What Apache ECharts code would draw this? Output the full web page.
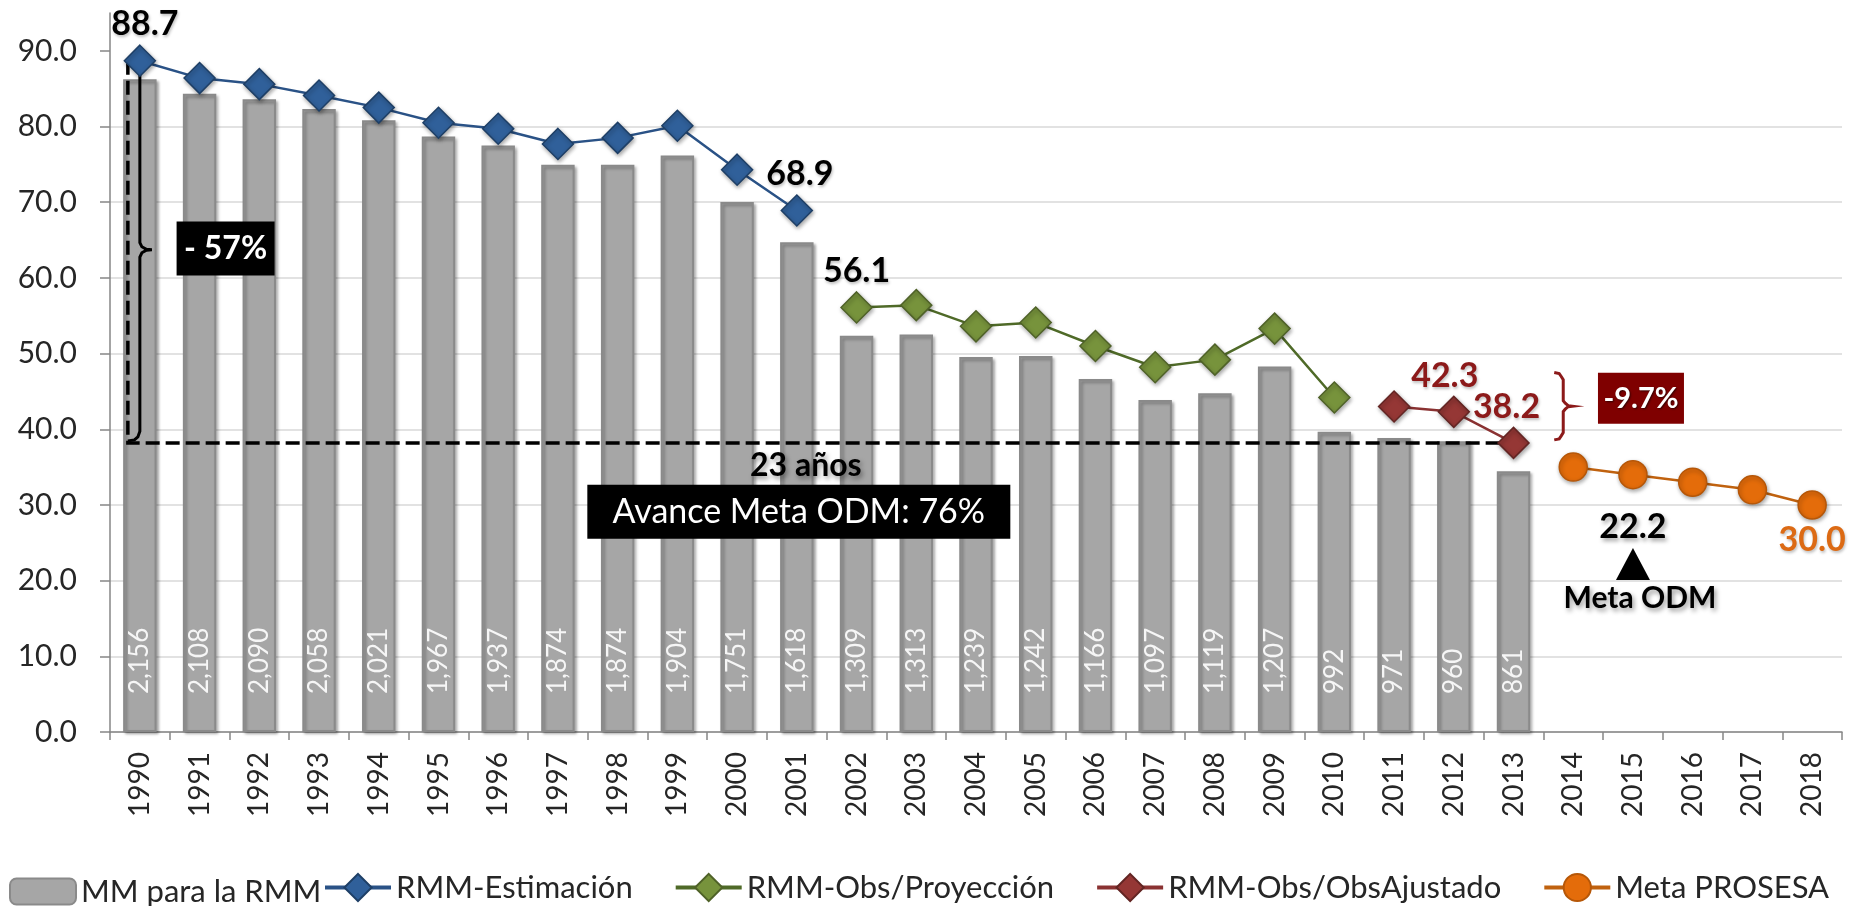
<!DOCTYPE html>
<html>
<head>
<meta charset="utf-8">
<script src="https://cdn.jsdelivr.net/npm/echarts@6/dist/echarts.min.js"></script>
<style>
  html, body { margin: 0; padding: 0; background: #fff; }
  #chart { width: 1853px; height: 906px; }
</style>
</head>
<body>
<div id="chart"></div>
<script>
const FONT = 'Lato';

const years = ['1990', '1991', '1992', '1993', '1994', '1995', '1996', '1997', '1998', '1999',
  '2000', '2001', '2002', '2003', '2004', '2005', '2006', '2007', '2008', '2009',
  '2010', '2011', '2012', '2013', '2014', '2015', '2016', '2017', '2018'];
const yTicks = [0, 10, 20, 30, 40, 50, 60, 70, 80, 90];

// MM para la RMM (1990-2013)
const mmCounts = [2156, 2108, 2090, 2058, 2021, 1967, 1937, 1874, 1874, 1904, 1751, 1618,
  1309, 1313, 1239, 1242, 1166, 1097, 1119, 1207, 992, 971, 960, 861];
// RMM-Estimación (1990-2001)
const rmmEstimacion = [88.7, 86.4, 85.6, 84.1, 82.5, 80.5, 79.7, 77.7, 78.5, 80.1, 74.3, 68.9];
// RMM-Obs/Proyección (2002-2010)
const rmmObsProyeccion = [56.1, 56.4, 53.6, 54.1, 51.0, 48.2, 49.2, 53.3, 44.2];
// RMM-Obs/ObsAjustado (2011-2013)
const rmmObsAjustado = [43.0, 42.3, 38.2];
// Meta PROSESA (2014-2018)
const metaProsesa = [35.0, 34.0, 33.0, 32.0, 30.0];
// Meta ODM (2015)
const metaOdm = 22.2;

function place(values, fromYear) {
  const start = years.indexOf(fromYear);
  return years.map((y, i) => (i >= start && i < start + values.length) ? values[i - start] : null);
}

function withLabels(arr, labels) {
  return arr.map((v, i) => labels[years[i]]
    ? { value: v, label: Object.assign({ show: true }, labels[years[i]]) }
    : v);
}

const shadow = { shadowColor: 'rgba(0,0,0,0.35)', shadowBlur: 4, shadowOffsetX: 1, shadowOffsetY: 2 };
const textShadow = { textShadowColor: 'rgba(0,0,0,0.25)', textShadowBlur: 3, textShadowOffsetX: 1, textShadowOffsetY: 2 };

function lineSeries(name, data, fill, border, lineColor, symbol, size) {
  return {
    name, type: 'line', data, symbol, symbolSize: size, connectNulls: false,
    lineStyle: { color: lineColor, width: 2.5 },
    itemStyle: Object.assign({ color: fill, borderColor: border, borderWidth: 1.5 }, shadow),
    label: Object.assign({ show: false, fontFamily: FONT, fontWeight: 'bold', fontSize: 34, color: '#000', distance: 3,
      formatter: p => p.value.toFixed(1) }, textShadow),
    emphasis: { disabled: true },
    z: 3
  };
}

const chart = echarts.init(document.getElementById('chart'));

const legendText = { fontFamily: FONT, fontSize: 31, color: '#262626' };

const option = {
  animation: false,
  textStyle: { fontFamily: FONT },
  grid: { left: 110, right: 11, top: 13, bottom: 174, containLabel: false },
  legend: [{
    data: ['MM para la RMM'],
    left: 4, top: 871,
    itemWidth: 66, itemHeight: 26,
    textStyle: legendText
  }, {
    data: ['RMM-Estimación', 'RMM-Obs/Proyección', 'RMM-Obs/ObsAjustado', 'Meta PROSESA'],
    left: 318, top: 867,
    itemWidth: 66, itemHeight: 34, itemGap: 41,
    lineStyle: { width: 4 },
    textStyle: legendText
  }],
  xAxis: {
    type: 'category',
    data: years,
    axisLine: { lineStyle: { color: '#868686', width: 1.5 } },
    axisTick: { show: true, length: 8, interval: 0, lineStyle: { color: '#868686', width: 1.5 } },
    axisLabel: { rotate: 90, interval: 0, margin: 20, fontSize: 28, color: '#262626', fontFamily: FONT }
  },
  yAxis: [{
    type: 'value', min: 0, max: 95, interval: 10,
    axisLine: { show: true, lineStyle: { color: '#868686', width: 1.5 } },
    axisTick: { show: true, length: 10, customValues: yTicks, lineStyle: { color: '#868686', width: 1.5 } },
    axisLabel: { customValues: yTicks, margin: 33, fontSize: 30, color: '#262626', fontFamily: FONT,
      formatter: v => v.toFixed(1) },
    splitLine: { show: true, showMaxLine: false, lineStyle: { color: '#d9d9d9', width: 1.5 } }
  }, {
    type: 'value', min: 0, max: 2375, show: false, splitLine: { show: false }
  }],
  series: [
    {
      name: 'MM para la RMM', type: 'bar', yAxisIndex: 1, data: mmCounts, barWidth: '56%',
      itemStyle: Object.assign({ color: '#a6a6a6', borderColor: '#8a8a8a', borderWidth: 2 },
        { shadowColor: 'rgba(0,0,0,0.3)', shadowBlur: 3, shadowOffsetX: 2, shadowOffsetY: 2 }),
      label: {
        show: true, rotate: 90, position: 'insideBottom', distance: 38, align: 'left', verticalAlign: 'middle',
        fontFamily: FONT, fontSize: 26, color: 'rgba(255,255,255,0.9)',
        formatter: p => p.value.toLocaleString('en-US')
      },
      emphasis: { disabled: true },
      z: 2
    },
    lineSeries('RMM-Estimación', withLabels(place(rmmEstimacion, '1990'), {
      '1990': { position: 'top', offset: [5, 0] },
      '2001': { position: 'top', offset: [3, 0] }
    }), '#30609a', '#1e3f66', '#2a5286', 'diamond', 31),
    lineSeries('RMM-Obs/Proyección', withLabels(place(rmmObsProyeccion, '2002'), {
      '2002': { position: 'top' }
    }), '#77933c', '#4f6228', '#4f6a28', 'diamond', 31),
    lineSeries('RMM-Obs/ObsAjustado', withLabels(place(rmmObsAjustado, '2011'), {
      '2012': { position: 'top', offset: [-9, 0], color: '#8c1a1a' },
      '2013': { position: 'top', offset: [-7, 0], color: '#8c1a1a' }
    }), '#953735', '#632523', '#8a3232', 'diamond', 31),
    lineSeries('Meta PROSESA', withLabels(place(metaProsesa, '2014'), {
      '2018': { position: 'bottom', color: '#dc6a14' }
    }), '#e46c0a', '#b65708', '#c0620f', 'circle', 28),
    {
      name: 'Meta ODM', type: 'scatter', data: withLabels(place([metaOdm], '2015'), {
        '2015': { position: 'top', distance: 4 }
      }),
      symbol: 'triangle', symbolSize: [34, 32],
      itemStyle: { color: '#000', opacity: 1 },
      label: Object.assign({ show: false, fontFamily: FONT, fontWeight: 'bold', fontSize: 34, color: '#000',
        formatter: p => p.value.toFixed(1) },
        { textShadowColor: 'rgba(0,0,0,0.35)', textShadowBlur: 4, textShadowOffsetX: 2, textShadowOffsetY: 3 }),
      emphasis: { disabled: true },
      z: 4
    }
  ]
};

chart.setOption(option);

// annotations anchored to data positions
const px = (year, value) => chart.convertToPixel({ xAxisIndex: 0, yAxisIndex: 0 }, [year, value]);

function brace(x, y0, y1, w) {
  const ym = (y0 + y1) / 2;
  return [
    [x - w, y0], [x - w * 0.45, y0 + 1], [x - 2, y0 + 4], [x, y0 + w * 0.8],
    [x, ym - w * 0.6], [x + 2, ym - 3], [x + w * 0.55, ym - 0.5], [x + w, ym],
    [x + w * 0.55, ym + 0.5], [x + 2, ym + 3], [x, ym + w * 0.6],
    [x, y1 - w * 0.8], [x - 2, y1 - 4], [x - w * 0.45, y1 - 1], [x - w, y1]
  ];
}

function label(x, y, text, font, fill, sh) {
  return {
    type: 'text', z: 11, x, y,
    style: Object.assign({ text, font, fill, align: 'center', verticalAlign: 'middle',
      textAlign: 'center', textVerticalAlign: 'middle' }, sh || {})
  };
}

function box(cx, cy, w, h, fill, text, font) {
  return [{
    type: 'rect', z: 10,
    shape: { x: cx - w / 2, y: cy - h / 2, width: w, height: h },
    style: { fill }
  }, label(cx, cy, text, font, '#fff',
    { textShadowColor: 'rgba(0,0,0,0.6)', textShadowBlur: 2, textShadowOffsetX: 1, textShadowOffsetY: 1 })];
}

const p1990Top = px('1990', rmmEstimacion[0]);
const p1990Bot = px('1990', rmmObsAjustado[2]);
const p2013 = px('2013', rmmObsAjustado[2]);
const dashX = p1990Top[0] - 12;

const pRedTop = px('2014', 47.5);
const pRedBot = px('2014', 38.6);
const p57 = px('1991', 63.9);
const p97 = px('2015', 44.1);
const pAnos = px('2001', 35.2);
const pAvance = px('2001', 29.1);
const pMeta = px('2015', 17.7);

const shadowText = { textShadowColor: 'rgba(0,0,0,0.4)', textShadowBlur: 5, textShadowOffsetX: 2, textShadowOffsetY: 3 };

chart.setOption({
  graphic: [
    {
      type: 'polyline', z: 2.5,
      shape: { points: [[dashX, p1990Top[1]], [dashX, p1990Bot[1]], [p2013[0], p2013[1]]] },
      style: { stroke: '#000', lineWidth: 3.5, lineDash: [14, 6], fill: null }
    },
    {
      type: 'polyline', z: 2.5,
      shape: { points: brace(p1990Top[0], p1990Top[1] - 2, p1990Bot[1] - 2, 12) },
      style: { stroke: '#000', lineWidth: 3, fill: null }
    },
    {
      type: 'polyline', z: 2.5,
      shape: { points: brace(pRedTop[0] - 10, pRedTop[1], pRedBot[1], 9) },
      style: { stroke: '#8c1a1a', lineWidth: 3, fill: null }
    },
    ...box(p57[0] + 26, p57[1], 98, 54, '#000', '- 57%', 'bold 32px Lato'),
    ...box(p97[0] + 8, p97[1], 86, 51, '#7f0000', '-9.7%', 'bold 29px Lato'),
    label(pAnos[0] + 9, pAnos[1], '23 años', 'bold 32px Lato', '#000', shadowText),
    ...box(pAvance[0] + 2, pAvance[1], 423, 54, '#000', 'Avance Meta ODM: 76%', '34px Lato'),
    label(pMeta[0] + 7, pMeta[1], 'Meta ODM', 'bold 30px Lato', '#000', shadowText)
  ]
});
</script>
</body>
</html>
